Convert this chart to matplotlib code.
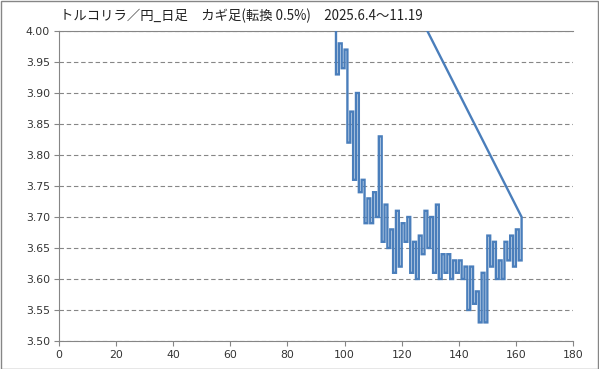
import numpy as np
import matplotlib
matplotlib.use("Agg")
import matplotlib.pyplot as plt
from matplotlib.patches import Rectangle

plt.rcParams['font.family'] = ['DejaVu Sans', 'Noto Sans CJK JP']

# カギ足の転換点 (x = 転換の番号, y = 価格)
start_x = 96
start_y = 4.30
kagi_x = list(range(97, 163))
kagi_y = [3.93, 3.98, 3.94, 3.97, 3.82, 3.87, 3.76, 3.90, 3.74, 3.76,
          3.69, 3.73, 3.69, 3.74, 3.70, 3.83, 3.66, 3.72, 3.65, 3.68,
          3.61, 3.71, 3.62, 3.69, 3.66, 3.70, 3.61, 3.66, 3.60, 3.67,
          3.64, 3.71, 3.65, 3.70, 3.61, 3.72, 3.60, 3.64, 3.61, 3.64,
          3.60, 3.63, 3.61, 3.63, 3.60, 3.62, 3.55, 3.62, 3.56, 3.58,
          3.53, 3.61, 3.53, 3.67, 3.62, 3.66, 3.60, 3.63, 3.60, 3.66,
          3.63, 3.67, 3.62, 3.68, 3.63, 3.70]

titulo = "トルコリラ／円_日足　カギ足(転換 0.5%)　2025.6.4〜11.19"
x_ticks = [0, 20, 40, 60, 80, 100, 120, 140, 160, 180]
y_ticks = [3.50, 3.55, 3.60, 3.65, 3.70, 3.75, 3.80, 3.85, 3.90, 3.95, 4.00]


def camino_kagi(x0, y0, xs, ys):
    px = [x0]
    py = [y0]
    prev = y0
    for x, y in zip(xs, ys):
        px += [x, x]
        py += [prev, y]
        prev = y
    # la serie vuelve al primer punto
    px.append(x0)
    py.append(y0)
    return px, py


fig = plt.figure(figsize=(5.99, 3.69), dpi=100)
ax = fig.add_axes([59 / 599, 28 / 369, 514 / 599, 310 / 369])

px, py = camino_kagi(start_x, start_y, kagi_x, kagi_y)
ax.plot(px, py, color='#4a7ebb', lw=1.7, solid_joinstyle='miter', zorder=3)

ax.set_xlim(0, 180)
ax.set_ylim(3.50, 4.00)
ax.set_xticks(x_ticks)
ax.set_yticks(y_ticks)
ax.set_yticklabels(["%.2f" % v for v in y_ticks])

ax.grid(axis='y', color='#868686', lw=0.8, linestyle=(0, (4, 2.5)))
ax.set_axisbelow(True)
for lado in ['left', 'bottom', 'top']:
    ax.spines[lado].set_color('#868686')
    ax.spines[lado].set_linewidth(0.8)
ax.spines['right'].set_visible(False)
ax.tick_params(axis='both', direction='out', length=3.5, width=0.8,
               color='#868686', labelsize=7.8, labelcolor='#333333', pad=3)

fig.text(60 / 599, 1 - 16 / 369, titulo, fontsize=9.6, va='center', ha='left',
         color='#222222', family=['Noto Sans CJK JP', 'DejaVu Sans'])

fig.patches.append(Rectangle((0.5 / 599, 0.5 / 369), 597.5 / 599, 367.5 / 369,
                             transform=fig.transFigure, fill=False,
                             edgecolor='#868686', lw=1))

fig.savefig("out.png", dpi=100)
